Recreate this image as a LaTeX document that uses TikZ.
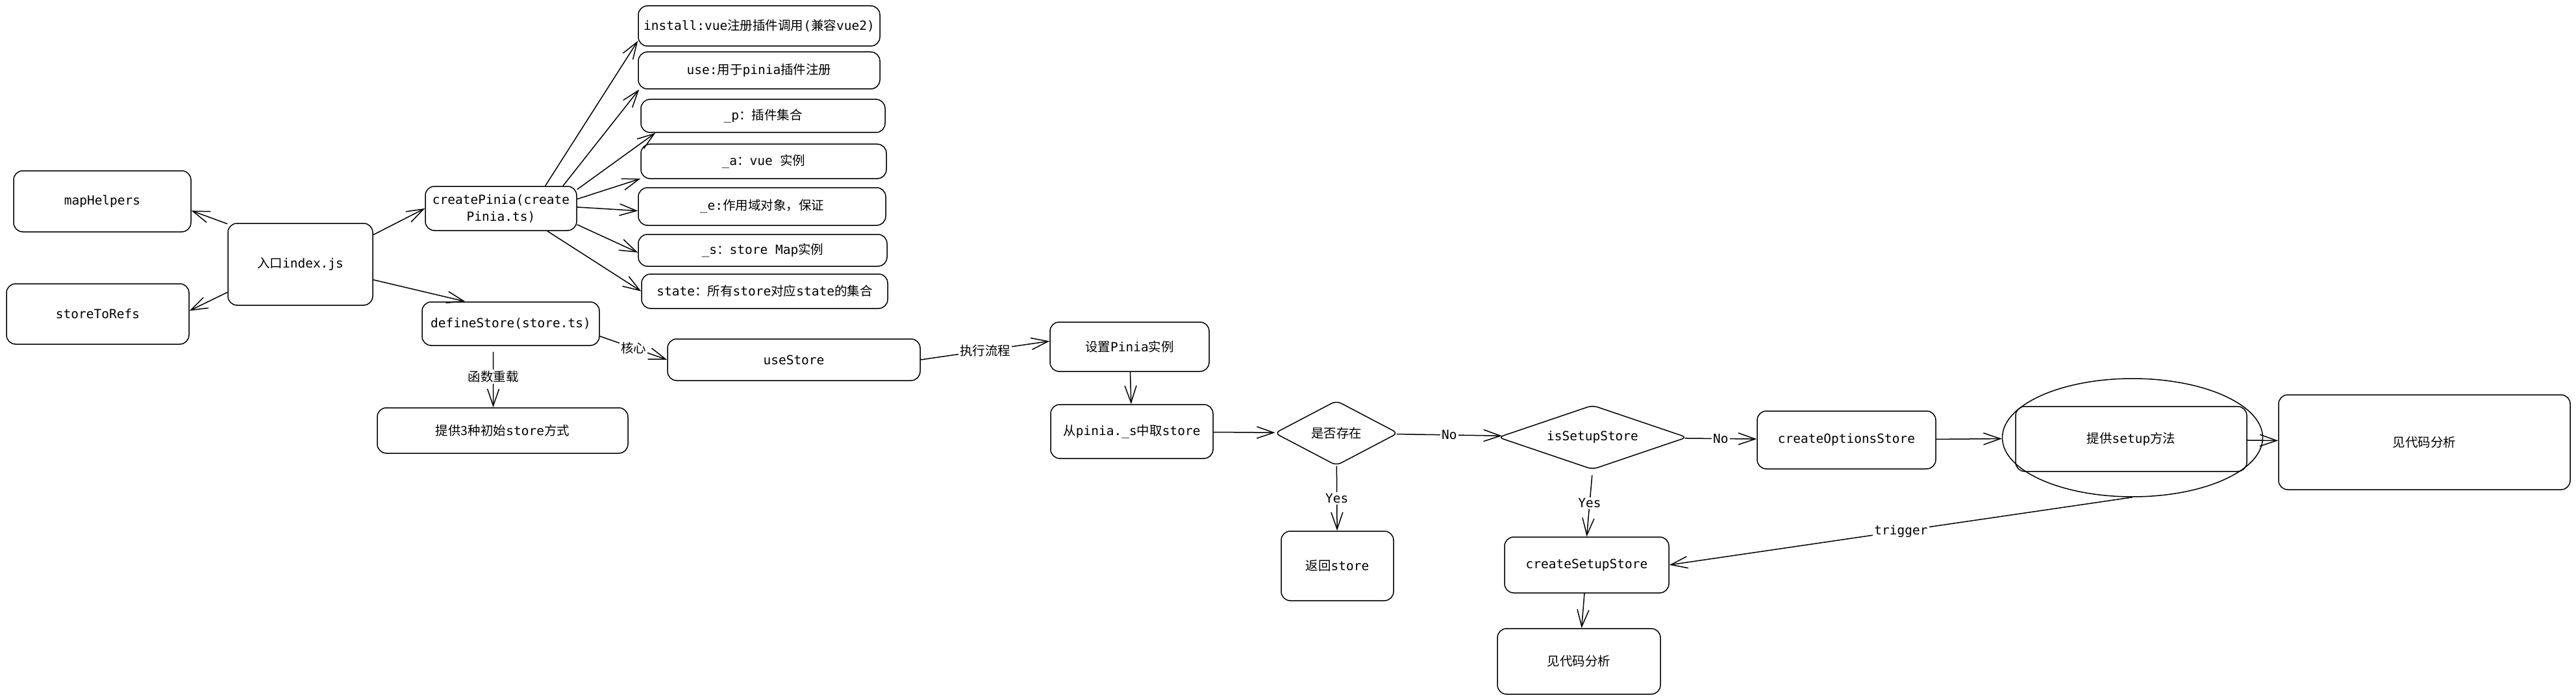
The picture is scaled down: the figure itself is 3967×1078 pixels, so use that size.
\documentclass[tikz,border=0pt]{standalone}
\usepackage{fontspec}
\setmainfont{DejaVu Sans Mono}
\newfontfamily\zhfont{Noto Sans CJK SC}
\newcommand{\zh}[1]{{\zhfont #1}}
\usetikzlibrary{arrows.meta,shapes.geometric}

\begin{document}
\begin{tikzpicture}[x=1pt,y=-1pt,
    every node/.style={font=\fontsize{19.5}{26}\selectfont},
    box/.style={draw, line width=1.5pt, rounded corners=14pt, inner sep=2pt, align=center},
    decision/.style={draw, diamond, line width=1.5pt, rounded corners=8pt, inner sep=1pt},
    lbl/.style={fill=white, inner sep=2pt},
    arr/.style={line width=1.5pt, -{Straight Barb[length=26pt,width=18pt]}}]
        \useasboundingbox (0,0) rectangle (3967,1078);
        % createPinia members
        \node[box, minimum width=372pt, minimum height=62pt] (inst) at (1169,40) {install:vue\zh{注册插件调用}(\zh{兼容}vue2)};
        \node[box, minimum width=372pt, minimum height=57pt] (use) at (1169,108.5) {use:\zh{用于}pinia\zh{插件注册}};
        \node[box, minimum width=376pt, minimum height=51pt] (p) at (1175,178.5) {\_p\zh{：插件集合}};
        \node[box, minimum width=378pt, minimum height=53pt] (a) at (1176,248.5) {\_a\zh{：}vue \zh{实例}};
        \node[box, minimum width=381pt, minimum height=58pt] (e) at (1173.5,318) {\_e:\zh{作用域对象，保证}};
        \node[box, minimum width=383pt, minimum height=49pt] (s) at (1174.5,385.5) {\_s\zh{：}store Map\zh{实例}};
        \node[box, minimum width=379pt, minimum height=53pt] (state) at (1177.5,448.5) {state\zh{：所有}store\zh{对应}state\zh{的集合}};
        % entry
        \node[box, minimum width=273pt, minimum height=94pt] (mh) at (157.5,310) {mapHelpers};
        \node[box, minimum width=281pt, minimum height=93pt] (str) at (150.5,483.5) {storeToRefs};
        \node[box, minimum width=223pt, minimum height=126pt] (idx) at (462.5,407) {\zh{入口}index.js};
        \node[box, minimum width=233pt, minimum height=68pt] (cp) at (771.5,321) {createPinia(create\\Pinia.ts)};
        \node[box, minimum width=273pt, minimum height=67pt] (ds) at (786.5,498.5) {defineStore(store.ts)};
        \node[box, minimum width=386pt, minimum height=70pt] (three) at (774,663) {\zh{提供3种初始}store\zh{方式}};
        % useStore flow
        \node[box, minimum width=389pt, minimum height=64pt] (us) at (1222.5,554) {useStore};
        \node[box, minimum width=245pt, minimum height=76pt] (sp) at (1739.5,534) {\zh{设置}Pinia\zh{实例}};
        \node[box, minimum width=250pt, minimum height=83pt] (gs) at (1743,664.5) {\zh{从}pinia.\_s\zh{中取}store};
        \node[decision, aspect=1.9, minimum width=190pt, minimum height=100pt] (ex) at (2058,667) {\zh{是否存在}};
        \node[decision, aspect=2.9, minimum width=291pt, minimum height=99pt] (is) at (2452.5,673.5) {isSetupStore};
        \node[box, minimum width=275pt, minimum height=89pt] (op) at (2843.5,677.5) {createOptionsStore};
        \node[draw, ellipse, line width=1.5pt, minimum width=401pt, minimum height=182pt] (el) at (3284,674) {};
        \node[box, minimum width=356pt, minimum height=100pt] (sm) at (3282,676) {\zh{提供}setup\zh{方法}};
        \node[box, minimum width=449pt, minimum height=146pt] (ar) at (3733.5,681) {\zh{见代码分析}};
        \node[box, minimum width=173pt, minimum height=107pt] (rs) at (2059.5,871.5) {\zh{返回}store};
        \node[box, minimum width=253pt, minimum height=86pt] (ss) at (2443.5,870) {createSetupStore};
        \node[box, minimum width=251pt, minimum height=101pt] (ab) at (2431.5,1018.5) {\zh{见代码分析}};

        \draw[arr] (cp.27) -- (inst.187);
        \draw[arr] (cp.20) -- (use.189);
        \draw[arr] (cp.14) -- (p.189);
        \draw[arr] (cp.7) -- (a.188);
        \draw[arr] (cp.1) -- (e.182);
        \draw[arr] (cp.-12) -- (s.181);
        \draw[arr] (cp.-26) -- (state.west);
        \draw[arr] (idx.22) -- (cp.west);
        \draw[arr] (idx.-12) -- (ds.154);
        \draw[arr] (idx.151) -- (mh.-6);
        \draw[arr] (idx.201) -- (str.2);
        \draw[arr] (ds.-8) -- node[lbl]{\zh{核心}} (us.west);
        \draw[arr, shorten <=9pt] (ds.232) -- node[lbl]{\zh{函数重载}} (three.112);
        \draw[arr] (us.east) -- node[lbl]{\zh{执行流程}} (sp.176);
        \draw[arr] (sp) -- (gs);
        \draw[arr] (gs) -- (ex);
        \draw[arr] (ex) -- node[lbl]{No} (is);
        \draw[arr] (is) -- node[lbl]{No} (op);
        \draw[arr] (op) -- (el);
        \draw[arr] (sm) -- (ar);
        \draw[arr] (ex) -- node[lbl]{Yes} (rs);
        \draw[arr, shorten <=8pt] (is.south) -- node[lbl]{Yes} (ss.north);
        \draw[arr] (ss) -- (ab);
        \draw[arr] (el.south) -- node[lbl]{trigger} (ss.east);
    \end{tikzpicture}
\end{document}
